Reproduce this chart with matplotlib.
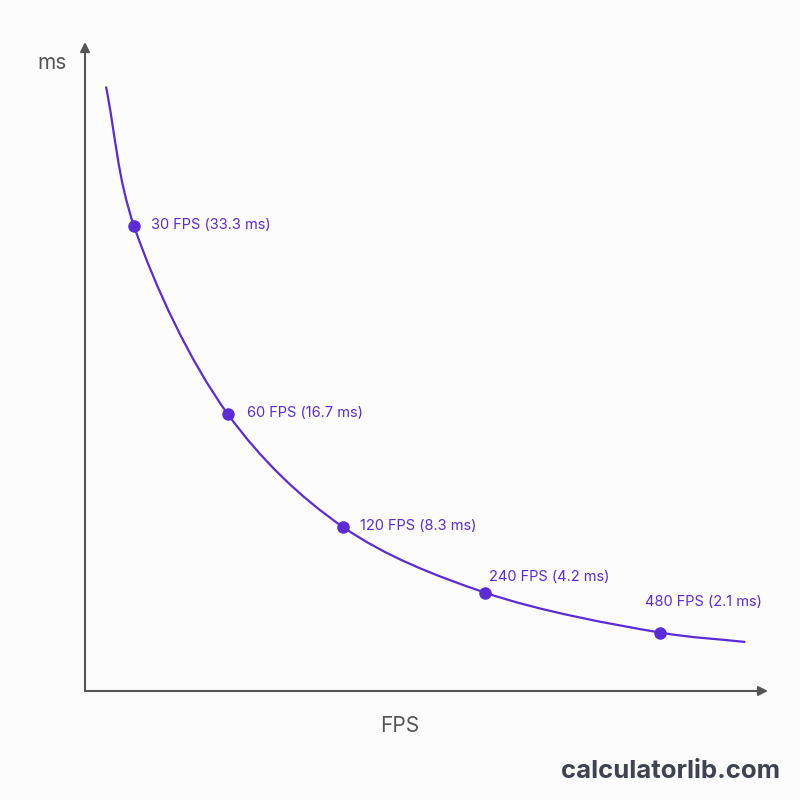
import numpy as np
import matplotlib.pyplot as plt
from matplotlib.path import Path
from matplotlib.patches import PathPatch

# Marked points
fps_points = [30, 60, 120, 240, 480]
ms_points = [33.3, 16.7, 8.3, 4.2, 2.1]
point_labels = ['30 FPS (33.3 ms)', '60 FPS (16.7 ms)', '120 FPS (8.3 ms)',
                '240 FPS (4.2 ms)', '480 FPS (2.1 ms)']
label_offsets = [(17, 1), (19, 1), (17, 1), (4, 16), (-15, 31)]

# Curve (ends + marked points)
curve_fps = [23.6, 30, 60, 120, 240, 480, 643]
curve_ms = [47.3, 33.3, 16.7, 8.3, 4.2, 2.1, 1.66]

PURPLE = '#5b2bd6'
GREY = '#555555'
BG = '#fcfcfc'

XP, YP = 0.3, 0.75  # exponents of the schematic axis scales

plt.rcParams['font.family'] = ['Inter', 'DejaVu Sans']

fig = plt.figure(figsize=(8, 8), dpi=100, facecolor=BG)
ax = fig.add_axes([85 / 800, 1 - 691 / 800, (768 - 85) / 800, (691 - 42) / 800])
ax.set_facecolor(BG)

ax.set_xscale('function', functions=(lambda x: np.power(np.clip(x, 0, None), XP),
                                     lambda x: np.power(np.clip(x, 0, None), 1 / XP)))
ax.set_yscale('function', functions=(lambda y: np.power(np.clip(y, 0, None), YP),
                                     lambda y: np.power(np.clip(y, 0, None), 1 / YP)))
ax.set_xlim(19.5, 692)
ax.set_ylim(0, 52)


def smooth_path(xs, ys, alpha=0.5):
    """Centripetal Catmull-Rom through the points (in screen space), as a bezier Path"""
    p = ax.transData.transform(np.column_stack([xs, ys]))
    p = np.vstack([p[0] - (p[1] - p[0]), p, p[-1] + (p[-1] - p[-2])])
    verts = [p[1]]
    codes = [Path.MOVETO]
    for i in range(1, len(p) - 2):
        p0, p1, p2, p3 = p[i - 1], p[i], p[i + 1], p[i + 2]
        d1 = np.linalg.norm(p1 - p0) ** alpha
        d2 = np.linalg.norm(p2 - p1) ** alpha
        d3 = np.linalg.norm(p3 - p2) ** alpha
        b1 = (d1 ** 2 * p2 - d2 ** 2 * p0 + (2 * d1 ** 2 + 3 * d1 * d2 + d2 ** 2) * p1) / (3 * d1 * (d1 + d2))
        b2 = (d3 ** 2 * p1 - d2 ** 2 * p3 + (2 * d3 ** 2 + 3 * d3 * d2 + d2 ** 2) * p2) / (3 * d3 * (d3 + d2))
        verts += [b1, b2, p2]
        codes += [Path.CURVE4] * 3
    return Path(np.array(verts), codes)


ax.add_patch(PathPatch(smooth_path(curve_fps, curve_ms), facecolor='none',
                       edgecolor=PURPLE, linewidth=1.6, capstyle='butt',
                       transform=None))
ax.plot(fps_points, ms_points, 'o', color=PURPLE, markersize=8, zorder=3)

for x, y, txt, (dx, dy) in zip(fps_points, ms_points, point_labels, label_offsets):
    ax.annotate(txt, (x, y), xytext=(dx, dy), textcoords='offset pixels',
                ha='left', va='center', fontsize=10.5, color=PURPLE)

for s in ax.spines.values():
    s.set_visible(False)
ax.set_xticks([])
ax.set_yticks([])
ax.minorticks_off()

# axis arrows
arrow = dict(arrowstyle='-|>', color=GREY, lw=1.5, mutation_scale=14,
             shrinkA=0, shrinkB=0)
ax.annotate('', xy=(0, 1), xytext=(0, 0), xycoords='axes fraction', arrowprops=arrow)
ax.annotate('', xy=(1, 0), xytext=(0, 0), xycoords='axes fraction', arrowprops=arrow)

fig.text(52 / 800, 1 - 63 / 800, 'ms', ha='center', va='center', fontsize=15, color=GREY)
fig.text(400 / 800, 1 - 726 / 800, 'FPS', ha='center', va='center', fontsize=15, color=GREY)
fig.text(780 / 800, 1 - 772 / 800, 'calculatorlib.com', ha='right', va='center',
         fontsize=18.5, fontweight='bold', color='#3d4350')

fig.savefig('out.png', dpi=100, facecolor=BG)
